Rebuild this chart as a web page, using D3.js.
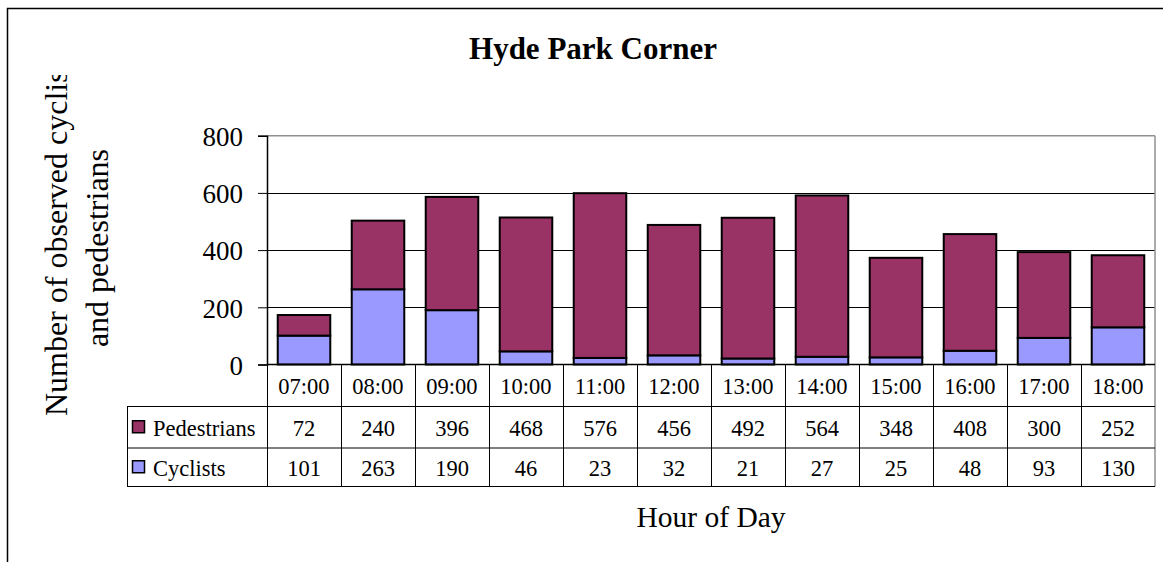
<!DOCTYPE html>
<html>
<head>
<meta charset="utf-8">
<script src="https://cdn.jsdelivr.net/npm/d3@7"></script>
<style>
  html, body { margin: 0; padding: 0; background: #fff; }
  svg { display: block; font-family: "Liberation Serif", "Times New Roman", serif; }
</style>
</head>
<body>
<svg id="chart" width="1163" height="562"></svg>
<script>
const hours = ["07:00","08:00","09:00","10:00","11:00","12:00","13:00","14:00","15:00","16:00","17:00","18:00"];
const pedestrians = [72, 240, 396, 468, 576, 456, 492, 564, 348, 408, 300, 252];
const cyclists = [101, 263, 190, 46, 23, 32, 21, 27, 25, 48, 93, 130];
const yTicks = [0, 200, 400, 600, 800];
const seriesNames = ["Pedestrians", "Cyclists"];
const seriesColors = {"Pedestrians": "#993366", "Cyclists": "#9999FF"};
const titleText = "Hyde Park Corner";
const yTitleLines = ["Number of observed cyclists", "and pedestrians"];
const xTitleText = "Hour of Day";

const svg = d3.select("#chart");
const W = 1163, H = 562;
const plot = {left: 267, right: 1155, top: 135.7, bottom: 364.5};
const tbl = {legendLeft: 127, rows: [364.5, 406.5, 448, 486.5]};

// outer chart border (only left & top visible)
svg.append("rect").attr("x", 7.5).attr("y", 8.5).attr("width", 1400).attr("height", 800)
  .attr("fill", "#fff").attr("stroke", "#000").attr("stroke-width", 1.5);

const x = d3.scaleBand().domain(hours).range([plot.left, plot.right]).paddingInner(0.29).paddingOuter(0.145);
const xCol = d3.scaleBand().domain(hours).range([plot.left, plot.right]).padding(0);
const y = d3.scaleLinear().domain([0, 800]).range([plot.bottom, plot.top]);

// gridlines
svg.append("g").selectAll("line").data(yTicks.filter(t => t > 0 && t < 800)).join("line")
  .attr("x1", plot.left).attr("x2", plot.right)
  .attr("y1", d => Math.round(y(d)) + 0.5).attr("y2", d => Math.round(y(d)) + 0.5)
  .attr("stroke", "#000").attr("stroke-width", 1);

// plot area border (top/right gray)
svg.append("line").attr("x1", plot.left).attr("x2", plot.right).attr("y1", plot.top).attr("y2", plot.top)
  .attr("stroke", "#909090").attr("stroke-width", 1.5);
svg.append("line").attr("x1", plot.right).attr("x2", plot.right).attr("y1", plot.top).attr("y2", tbl.rows[3])
  .attr("stroke", "#909090").attr("stroke-width", 1.5);

// stacked bars
const data = hours.map((h, i) => ({hour: h, Cyclists: cyclists[i], Pedestrians: pedestrians[i]}));
const stack = d3.stack().keys(["Cyclists", "Pedestrians"])(data);
svg.append("g").selectAll("g").data(stack).join("g")
  .attr("fill", d => seriesColors[d.key])
  .selectAll("rect").data(d => d).join("rect")
  .attr("x", d => x(d.data.hour))
  .attr("width", x.bandwidth())
  .attr("y", d => y(d[1]))
  .attr("height", d => y(d[0]) - y(d[1]))
  .attr("stroke", "#000").attr("stroke-width", 2);

// y axis
const yAxis = d3.axisLeft(y).tickValues(yTicks).tickSize(9).tickPadding(15).tickFormat(d3.format("d"));
const ya = svg.append("g").attr("transform", `translate(${plot.left},0)`).call(yAxis);
ya.select(".domain").attr("stroke", "#000").attr("stroke-width", 1.5);
ya.selectAll(".tick line").attr("stroke", "#000").attr("stroke-width", 1);
ya.selectAll(".tick text").attr("font-size", 27).attr("fill", "#000")
  .attr("font-family", "'Liberation Serif', 'Times New Roman', serif").attr("dy", "0.36em");

// x axis line
svg.append("line").attr("x1", plot.left).attr("x2", plot.right).attr("y1", plot.bottom).attr("y2", plot.bottom)
  .attr("stroke", "#000").attr("stroke-width", 1.5);

// data table
const tg = svg.append("g");
// horizontal lines
tg.append("line").attr("x1", tbl.legendLeft).attr("x2", plot.right).attr("y1", tbl.rows[1]).attr("y2", tbl.rows[1]).attr("stroke", "#000");
tg.append("line").attr("x1", tbl.legendLeft).attr("x2", plot.right).attr("y1", tbl.rows[2]).attr("y2", tbl.rows[2]).attr("stroke", "#000");
tg.append("line").attr("x1", tbl.legendLeft).attr("x2", plot.right).attr("y1", tbl.rows[3]).attr("y2", tbl.rows[3]).attr("stroke", "#000");
tg.append("line").attr("x1", tbl.legendLeft + 0.5).attr("x2", tbl.legendLeft + 0.5).attr("y1", tbl.rows[1]).attr("y2", tbl.rows[3]).attr("stroke", "#000");
// column separators
tg.selectAll("line.col").data(hours).join("line").attr("class", "col")
  .attr("x1", d => Math.round(xCol(d)) + 0.5).attr("x2", d => Math.round(xCol(d)) + 0.5)
  .attr("y1", tbl.rows[0]).attr("y2", tbl.rows[3]).attr("stroke", "#000");

const tfont = 22.5;
tg.selectAll("text.hdr").data(hours).join("text").attr("class", "hdr")
  .attr("x", d => xCol(d) + xCol.bandwidth() / 2).attr("y", (tbl.rows[0] + tbl.rows[1]) / 2 + 1)
  .attr("text-anchor", "middle").attr("dominant-baseline", "central").attr("font-size", tfont).text(d => d);

const rowVals = {"Pedestrians": pedestrians, "Cyclists": cyclists};
seriesNames.forEach((name, r) => {
  const cy = (tbl.rows[r + 1] + tbl.rows[r + 2]) / 2;
  tg.selectAll(null).data(rowVals[name]).join("text")
    .attr("x", (d, i) => xCol(hours[i]) + xCol.bandwidth() / 2).attr("y", cy + 1)
    .attr("text-anchor", "middle").attr("dominant-baseline", "central").attr("font-size", tfont).text(d => d);
  tg.append("rect").attr("x", 132.5).attr("y", cy - 6.5).attr("width", 12).attr("height", 12)
    .attr("fill", seriesColors[name]).attr("stroke", "#000").attr("stroke-width", 1.5);
  tg.append("text").attr("x", 153).attr("y", cy + 1).attr("dominant-baseline", "central")
    .attr("font-size", tfont).text(name);
});

// title
svg.append("text").attr("x", 593).attr("y", 59).attr("text-anchor", "middle")
  .attr("font-size", 31).attr("font-weight", "bold").text(titleText);

// x title
svg.append("text").attr("x", (plot.left + plot.right) / 2).attr("y", 527).attr("text-anchor", "middle")
  .attr("font-size", 29.5).text(xTitleText);

// y title (clipped at top like the original)
const defs = svg.append("defs");
defs.append("clipPath").attr("id", "yclip").append("rect").attr("x", 0).attr("y", 75).attr("width", 200).attr("height", 500);
const yt = svg.append("g").attr("clip-path", "url(#yclip)");
yt.append("text").attr("transform", "translate(67,416) rotate(-90)").attr("text-anchor", "start")
  .attr("font-size", 32).text(yTitleLines[0]);
yt.append("text").attr("transform", "translate(108,248) rotate(-90)").attr("text-anchor", "middle")
  .attr("font-size", 32).text(yTitleLines[1]);
</script>
</body>
</html>
